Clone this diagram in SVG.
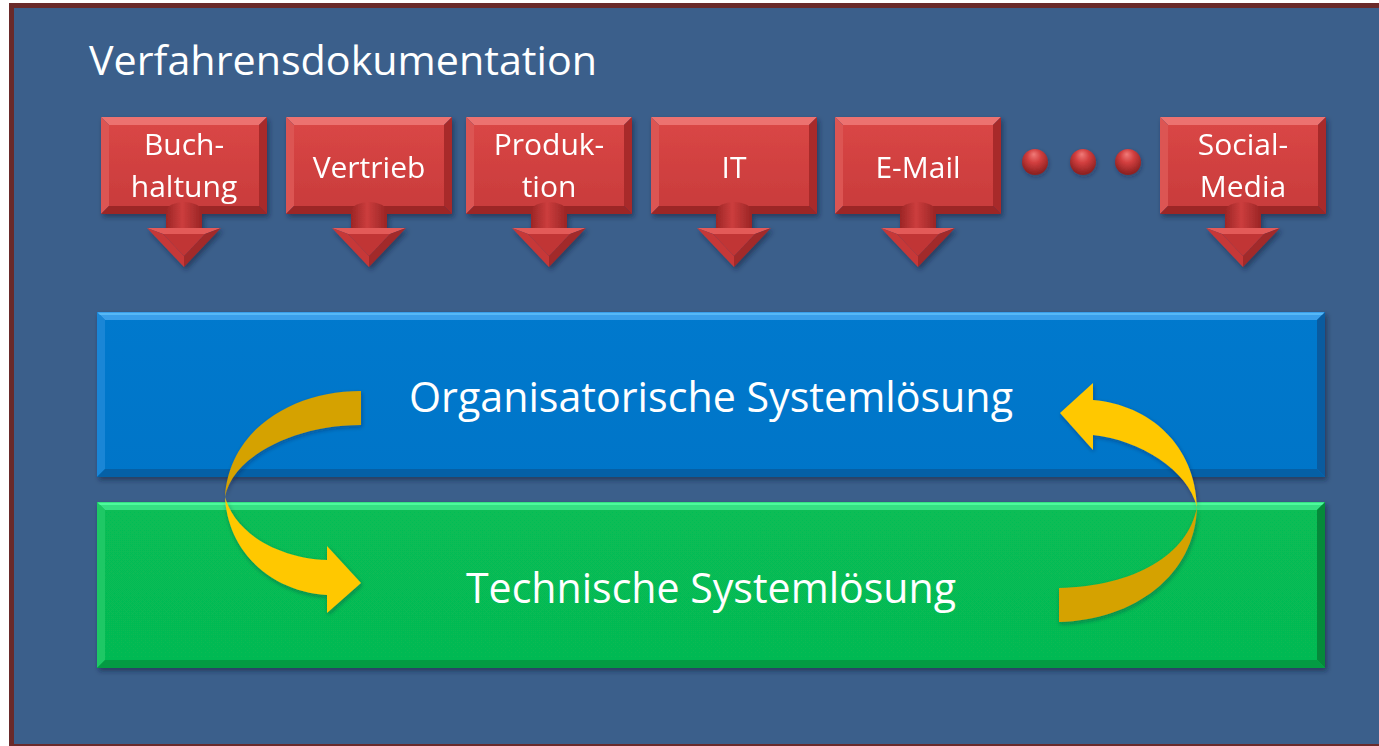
<svg xmlns="http://www.w3.org/2000/svg" xmlns:xlink="http://www.w3.org/1999/xlink" width="1379" height="746" viewBox="0 0 1379 746">
  <style>
    .title { font-family: "Open Sans", "Liberation Sans", sans-serif; font-size: 41px; fill: #ffffff; }
    .lbl { font-family: "Open Sans", "Liberation Sans", sans-serif; font-size: 30px; fill: #ffffff; text-anchor: middle; }
    .bar-lbl { font-family: "Open Sans", "Liberation Sans", sans-serif; font-size: 42px; fill: #ffffff; text-anchor: middle; }
    .rib-dark { fill: #d5a200; }
    .rib-light { fill: #ffc800; }
  </style>
  <defs>
    <filter id="shadow" x="-10%" y="-10%" width="120%" height="130%">
      <feDropShadow dx="2" dy="3" stdDeviation="2.5" flood-color="#10203a" flood-opacity="0.55"/>
    </filter>
    <filter id="softShadow" x="-10%" y="-10%" width="120%" height="130%">
      <feDropShadow dx="1" dy="2" stdDeviation="2" flood-color="#1a2030" flood-opacity="0.35"/>
    </filter>
    <linearGradient id="redFace" x1="0" y1="0" x2="0" y2="1">
      <stop offset="0" stop-color="#d94645"/>
      <stop offset="1" stop-color="#c93c3c"/>
    </linearGradient>
    <linearGradient id="stem" x1="0" y1="0" x2="1" y2="0">
      <stop offset="0" stop-color="#9c2626"/>
      <stop offset="0.45" stop-color="#cc3d3d"/>
      <stop offset="1" stop-color="#9a2525"/>
    </linearGradient>
    <radialGradient id="ball" cx="0.5" cy="0.35" r="0.6" fx="0.45" fy="0.2">
      <stop offset="0" stop-color="#f07a78"/>
      <stop offset="0.45" stop-color="#d23e3e"/>
      <stop offset="1" stop-color="#8e2222"/>
    </radialGradient>
    <linearGradient id="blueFace" x1="0" y1="0" x2="0" y2="1">
      <stop offset="0" stop-color="#0679cd"/>
      <stop offset="1" stop-color="#0675c8"/>
    </linearGradient>
    <linearGradient id="greenFace" x1="0" y1="0" x2="0" y2="1">
      <stop offset="0" stop-color="#07bd56"/>
      <stop offset="1" stop-color="#06b952"/>
    </linearGradient>

    <!-- beveled red block with its downward arrow, local size 166 x 150 -->
    <g id="redBlock">
      <path d="M65,113 L65,92 A18,8 0 0 1 101,92 L101,113 Z" fill="url(#stem)"/>
      <polygon points="0,0 166,0 158,8 8,8" fill="#ec7270"/>
      <polygon points="0,0 8,8 8,89 0,97" fill="#dc5453"/>
      <polygon points="166,0 166,97 158,89 158,8" fill="#a82b2b"/>
      <polygon points="0,97 8,89 158,89 166,97" fill="#9c2626"/>
      <rect x="8" y="8" width="150" height="81" fill="url(#redFace)"/>
      <path d="M65,113 L65,94 A18,9 0 0 1 101,94 L101,113 Z" fill="url(#stem)"/>
      <polygon points="46,111 120,111 104,117 62,117" fill="#e35a59"/>
      <polygon points="46,111 62,117 83,139 83,150" fill="#c63838"/>
      <polygon points="120,111 83,150 83,139 104,117" fill="#a22929"/>
      <polygon points="62,117 104,117 83,139" fill="#c13636"/>
    </g>
  </defs>

  <!-- page and frame -->
  <rect x="0" y="0" width="1379" height="746" fill="#ffffff"/>
  <rect x="11.5" y="5.5" width="1400" height="741" fill="#3b5f8b" stroke="#6a2a2a" stroke-width="5"/>

  <text class="title" x="89" y="75" textLength="508" lengthAdjust="spacingAndGlyphs">Verfahrensdokumentation</text>

  <!-- department blocks -->
  <g id="node-buchhaltung" filter="url(#shadow)">
    <use xlink:href="#redBlock" href="#redBlock" transform="translate(101,117)"/>
    <text class="lbl" x="184" y="155">Buch-</text>
    <text class="lbl" x="184" y="197">haltung</text>
  </g>
  <g id="node-vertrieb" filter="url(#shadow)">
    <use xlink:href="#redBlock" href="#redBlock" transform="translate(286,117)"/>
    <text class="lbl" x="369" y="178">Vertrieb</text>
  </g>
  <g id="node-produktion" filter="url(#shadow)">
    <use xlink:href="#redBlock" href="#redBlock" transform="translate(466,117)"/>
    <text class="lbl" x="549" y="155">Produk-</text>
    <text class="lbl" x="549" y="197">tion</text>
  </g>
  <g id="node-it" filter="url(#shadow)">
    <use xlink:href="#redBlock" href="#redBlock" transform="translate(651,117)"/>
    <text class="lbl" x="734" y="178">IT</text>
  </g>
  <g id="node-email" filter="url(#shadow)">
    <use xlink:href="#redBlock" href="#redBlock" transform="translate(835,117)"/>
    <text class="lbl" x="918" y="178">E-Mail</text>
  </g>
  <g id="node-ellipsis" filter="url(#softShadow)">
    <circle cx="1035" cy="162" r="13" fill="url(#ball)"/>
    <circle cx="1083" cy="162" r="13" fill="url(#ball)"/>
    <circle cx="1128" cy="162" r="13" fill="url(#ball)"/>
  </g>
  <g id="node-socialmedia" filter="url(#shadow)">
    <use xlink:href="#redBlock" href="#redBlock" transform="translate(1160,117)"/>
    <text class="lbl" x="1243" y="155">Social-</text>
    <text class="lbl" x="1243" y="197">Media</text>
  </g>

  <!-- organisational layer -->
  <g id="node-organisatorisch">
    <g filter="url(#shadow)">
      <rect x="97" y="312" width="1228" height="165" fill="url(#blueFace)"/>
    </g>
    <polygon points="97,312 1325,312 1317,320 105,320" fill="#3a9fea"/>
    <rect x="97" y="313" width="1228" height="2" fill="#56b8f6"/>
    <polygon points="97,312 105,320 105,469 97,477" fill="#1a86d6"/>
    <polygon points="1325,312 1325,477 1317,469 1317,320" fill="#0a5b9f"/>
    <polygon points="97,477 105,469 1317,469 1325,477" fill="#0560a6"/>
    <text class="bar-lbl" x="711" y="412" textLength="604" lengthAdjust="spacingAndGlyphs">Organisatorische Systemlösung</text>
  </g>

  <!-- technical layer -->
  <g id="node-technisch">
    <g filter="url(#shadow)">
      <rect x="97" y="502" width="1228" height="166" fill="url(#greenFace)"/>
    </g>
    <polygon points="97,502 1325,502 1317,510 105,510" fill="#36e083"/>
    <rect x="97" y="503" width="1228" height="2" fill="#4dfa9c"/>
    <polygon points="97,502 105,510 105,660 97,668" fill="#1ec865"/>
    <polygon points="1325,502 1325,668 1317,660 1317,510" fill="#05893a"/>
    <polygon points="97,668 105,660 1317,660 1325,668" fill="#049b43"/>
    <text class="bar-lbl" x="711" y="603" textLength="490" lengthAdjust="spacingAndGlyphs">Technische Systemlösung</text>
  </g>

  <!-- exchange between the two layers -->
  <g id="connectors" filter="url(#softShadow)">
    <g id="edge-org-to-tech">
      <path class="rib-dark" d="M361,391 C292,391 229,430 225,497 C232,458 292,425 361,425 Z"/>
      <path class="rib-light" d="M225,497 C228,555 275,592 327,595 L327,613 L361,583 L327,546 L327,560 C280,558 236,535 225,497 Z"/>
    </g>
    <g id="edge-tech-to-org">
      <path class="rib-dark" d="M1059,588 C1135,586 1188,555 1197,507 C1195,575 1135,620 1059,622 Z"/>
      <path class="rib-light" d="M1197,507 C1195,445 1150,405 1093,400 L1093,383 L1060,413 L1093,450 L1093,435 C1140,440 1188,470 1197,507 Z"/>
    </g>
  </g>
</svg>
